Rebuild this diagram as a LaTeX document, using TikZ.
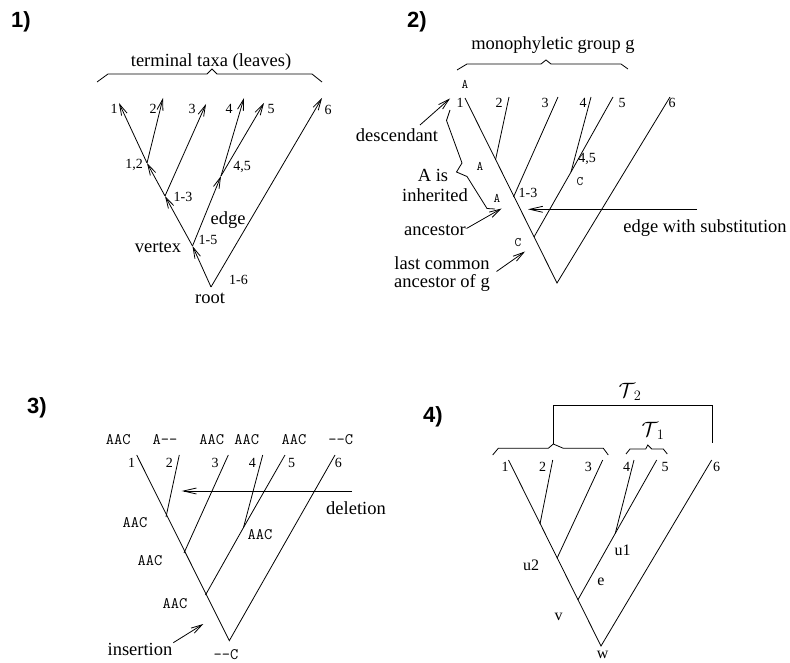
\documentclass[tikz,border=0pt]{standalone}
\usepackage{fontspec}
\setmainfont{Liberation Serif}
\newfontfamily\panelfont{Liberation Sans}
\usetikzlibrary{arrows.meta}

\tikzset{
  branch/.style={line width=0.8pt},
  arr/.style={line width=0.8pt,-{Straight Barb[length=11pt,width=6pt]}},
  longarr/.style={line width=0.8pt,-{Straight Barb[length=13pt,width=6pt]}},
  bracket/.style={line width=0.8pt},
  txt/.style={inner sep=0pt,font=\fontsize{18.5}{20}\selectfont},
  lbl/.style={inner sep=0pt,font=\fontsize{14}{14}\selectfont},
  vlbl/.style={inner sep=0pt,font=\fontsize{16}{16}\selectfont},
  seq/.style={inner sep=0pt,font=\ttfamily\fontsize{16}{16}\selectfont},
  seqs/.style={inner sep=0pt,font=\ttfamily\fontsize{13}{13}\selectfont},
  pnum/.style={inner sep=0pt,font=\panelfont\bfseries\fontsize{22}{22}\selectfont},
}

\begin{document}
\begin{tikzpicture}[x=1pt,y=-1pt]
\useasboundingbox (0,0) rectangle (790,663);

% ---------------- 1) rooted tree with directed edges ----------------
\node[pnum] (n1) at (21,22) {1)};
\node[txt] (leaves) at (211,62) {terminal taxa (leaves)};
\draw[bracket] (97,82) -- (108,74) -- (207,74) -- (212,69) -- (217,74) -- (312,74) -- (322,82);

\coordinate (a-root) at (211,287);
\coordinate (a-15) at (192.5,246);
\coordinate (a-13) at (165,196);
\coordinate (a-12) at (147,163);
\coordinate (a-45) at (221,176);
\coordinate (a-t1) at (119,103);
\coordinate (a-t2) at (163,98);
\coordinate (a-t3) at (206,104);
\coordinate (a-t4) at (244,98);
\coordinate (a-t5) at (264,103);
\coordinate (a-t6) at (322,98);

\draw[arr] (a-root) -- (a-15);
\draw[arr] (a-15) -- (a-13);
\draw[arr] (a-13) -- (a-12);
\draw[arr] (a-12) -- (a-t1);
\draw[arr] (a-12) -- (a-t2);
\draw[arr] (a-13) -- (a-t3);
\draw[arr] (a-15) -- (a-45);
\draw[arr] (a-45) -- (a-t4);
\draw[arr] (a-45) -- (a-t5);
\draw[arr] (a-root) -- (a-t6);

\node[lbl] (a-l1) at (114,109) {1};
\node[lbl] (a-l2) at (153,109) {2};
\node[lbl] (a-l3) at (192,109) {3};
\node[lbl] (a-l4) at (229,109) {4};
\node[lbl] (a-l5) at (271,109) {5};
\node[lbl] (a-l6) at (328,110) {6};
\node[lbl] (a-l12) at (134,165) {1,2};
\node[lbl] (a-l13) at (183,197) {1-3};
\node[lbl] (a-l45) at (242,167) {4,5};
\node[lbl] (a-l15) at (208,240) {1-5};
\node[lbl] (a-l16) at (238.5,280) {1-6};
\node[txt] (a-edge) at (228,220) {edge};
\node[txt] (a-vertex) at (158,247) {vertex};
\node[txt] (a-rootl) at (210,298) {root};

% ---------------- 2) monophyletic group and substitution ----------------
\node[pnum] (n2) at (417,22) {2)};
\node[txt] (mono) at (553,45) {monophyletic group g};
\draw[bracket] (457,70) -- (467,64) -- (541,64) -- (546,60) -- (551,64) -- (621,64) -- (628,69);

\coordinate (b-t1) at (465,98);
\coordinate (b-t2) at (509,97);
\coordinate (b-t3) at (558,97);
\coordinate (b-t4) at (591,97);
\coordinate (b-t5) at (613,97);
\coordinate (b-t6) at (670,97);
\coordinate (b-root) at (557,283);
\coordinate (b-2) at (495.5,160);
\coordinate (b-13) at (513.5,197);
\coordinate (b-c) at (534,237);
\coordinate (b-45) at (571,172);

\draw[branch] (b-t1) -- (b-root) -- (b-t6);
\draw[branch] (b-2) -- (b-t2);
\draw[branch] (b-13) -- (b-t3);
\draw[branch] (b-c) -- (b-45) -- (b-t5);
\draw[branch] (b-45) -- (b-t4);

\node[lbl] (b-l1) at (460,103) {1};
\node[lbl] (b-l2) at (499,103) {2};
\node[lbl] (b-l3) at (545,103) {3};
\node[lbl] (b-l4) at (583,103) {4};
\node[lbl] (b-l5) at (622,103) {5};
\node[lbl] (b-l6) at (672,103) {6};
\node[lbl] (b-l13) at (528,192.5) {1-3};
\node[lbl] (b-l45) at (587,158.5) {4,5};
\node[seqs] (b-sA1) at (465,84) {A};
\node[seqs] (b-sA2) at (480,166) {A};
\node[seqs] (b-sA3) at (497,198.5) {A};
\node[seqs] (b-sC1) at (580,182) {C};
\node[seqs] (b-sC2) at (518,243) {C};

\node[txt] (desc) at (397,135) {descendant};
\coordinate (desc-from) at (420,125);
\coordinate (desc-to) at (450,98.5);
\draw[arr] (desc-from) -- (desc-to);

\node[txt] (inh1) at (433,175) {A is};
\node[txt] (inh2) at (435,195) {inherited};
\draw[bracket] (450,110) -- (446.5,120.5) -- (462,163) -- (456.5,172) -- (467,176.5) -- (487,208.5) -- (495,209);

\node[txt] (anc) at (435,230) {ancestor};
\coordinate (anc-from) at (466.5,228.5);
\coordinate (anc-to) at (501.5,208.5);
\draw[arr] (anc-from) -- (anc-to);

\node[txt] (lca1) at (442,263) {last common};
\node[txt] (lca2) at (442,283) {ancestor of g};
\coordinate (lca-from) at (496.5,271.5);
\coordinate (lca-to) at (525,251.5);
\draw[arr] (lca-from) -- (lca-to);

\node[txt] (subst) at (705,228.5) {edge with substitution};
\coordinate (sub-from) at (697,209.3);
\coordinate (sub-to) at (528,209.3);
\draw[longarr] (sub-from) -- (sub-to);

% ---------------- 3) insertion and deletion ----------------
\node[pnum] (n3) at (37,408) {3)};

\coordinate (c-t1) at (136.7,455);
\coordinate (c-t2) at (179.3,455);
\coordinate (c-t3) at (228.3,455);
\coordinate (c-t4) at (262.7,455);
\coordinate (c-t5) at (285,455);
\coordinate (c-t6) at (335,455);
\coordinate (c-root) at (229.3,640.7);
\coordinate (c-2) at (166,517);
\coordinate (c-3) at (184,553);
\coordinate (c-5) at (205.5,595);
\coordinate (c-45) at (243.5,527.5);

\draw[branch] (c-t1) -- (c-root) -- (c-t6);
\draw[branch] (c-2) -- (c-t2);
\draw[branch] (c-3) -- (c-t3);
\draw[branch] (c-5) -- (c-45) -- (c-t5);
\draw[branch] (c-45) -- (c-t4);

\node[seq] (c-s1) at (118.3,439.5) {AAC};
\node[seq] (c-s2) at (165,439.5) {A-\kern0pt-};
\node[seq] (c-s3) at (211.7,439.5) {AAC};
\node[seq] (c-s4) at (246.7,439.5) {AAC};
\node[seq] (c-s5) at (294,439.5) {AAC};
\node[seq] (c-s6) at (340.7,439.5) {-\kern0pt-C};
\node[lbl] (c-l1) at (131.7,463.3) {1};
\node[lbl] (c-l2) at (169.3,463.3) {2};
\node[lbl] (c-l3) at (215,463.3) {3};
\node[lbl] (c-l4) at (252.3,463.3) {4};
\node[lbl] (c-l5) at (291.7,463.3) {5};
\node[lbl] (c-l6) at (338.3,463.3) {6};
\node[seq] (c-s12) at (135,522.7) {AAC};
\node[seq] (c-s13) at (150,560.7) {AAC};
\node[seq] (c-s45) at (260,535) {AAC};
\node[seq] (c-s15) at (175,603.3) {AAC};
\node[seq] (c-sroot) at (226,655) {-\kern0pt-C};

\node[txt] (del) at (356,508.3) {deletion};
\coordinate (del-from) at (352,491);
\coordinate (del-to) at (181.7,491);
\draw[longarr] (del-from) -- (del-to);

\node[txt] (ins) at (140,649) {insertion};
\coordinate (ins-from) at (173.3,642.7);
\coordinate (ins-to) at (203.3,624);
\draw[arr] (ins-from) -- (ins-to);

% ---------------- 4) subtrees T1 and T2 ----------------
\node[pnum] (n4) at (433,417) {4)};

\coordinate (d-t1) at (508.5,460);
\coordinate (d-t2) at (552.7,460);
\coordinate (d-t3) at (602.7,460);
\coordinate (d-t4) at (634,460);
\coordinate (d-t5) at (656.7,460);
\coordinate (d-t6) at (711.7,460);
\coordinate (d-w) at (601,646);
\coordinate (d-2) at (540,524);
\coordinate (d-u2) at (557,558.3);
\coordinate (d-v) at (577.8,600);
\coordinate (d-u1) at (615.3,533.3);

\draw[branch] (d-t1) -- (d-w) -- (d-t6);
\draw[branch] (d-2) -- (d-t2);
\draw[branch] (d-u2) -- (d-t3);
\draw[branch] (d-v) -- (d-u1) -- (d-t5);
\draw[branch] (d-u1) -- (d-t4);

\node[lbl] (d-l1) at (505,466.7) {1};
\node[lbl] (d-l2) at (542.7,466.7) {2};
\node[lbl] (d-l3) at (588.3,466.7) {3};
\node[lbl] (d-l4) at (626.7,466.7) {4};
\node[lbl] (d-l5) at (665,466.7) {5};
\node[lbl] (d-l6) at (716.7,466.7) {6};
\node[vlbl] (d-lu2) at (531,565) {u2};
\node[vlbl] (d-lu1) at (622.5,550) {u1};
\node[vlbl] (d-le) at (601,581.7) {e};
\node[vlbl] (d-lv) at (558.5,617) {v};
\node[vlbl] (d-lw) at (602.7,655) {w};

\draw[bracket] (492.7,455) -- (498.3,448.3) -- (548.3,448.3) -- (553.3,444) -- (563.3,448.3) -- (603.3,448.3) -- (608.3,455);
\draw[bracket] (553.3,444) -- (553.3,405) -- (712.7,405) -- (712.7,443.3);
\draw[bracket] (626,454) -- (630,449) -- (645.7,449) -- (647.7,445) -- (651.7,449) -- (663.3,449) -- (667.3,454);
\node[inner sep=0pt,font=\fontsize{20}{20}\selectfont] (T2) at (630,392) {$\mathcal{T}_{\;2}$};
\node[inner sep=0pt,font=\fontsize{20}{20}\selectfont] (T1) at (653,431) {$\mathcal{T}_{\;1}$};
\end{tikzpicture}
\end{document}
